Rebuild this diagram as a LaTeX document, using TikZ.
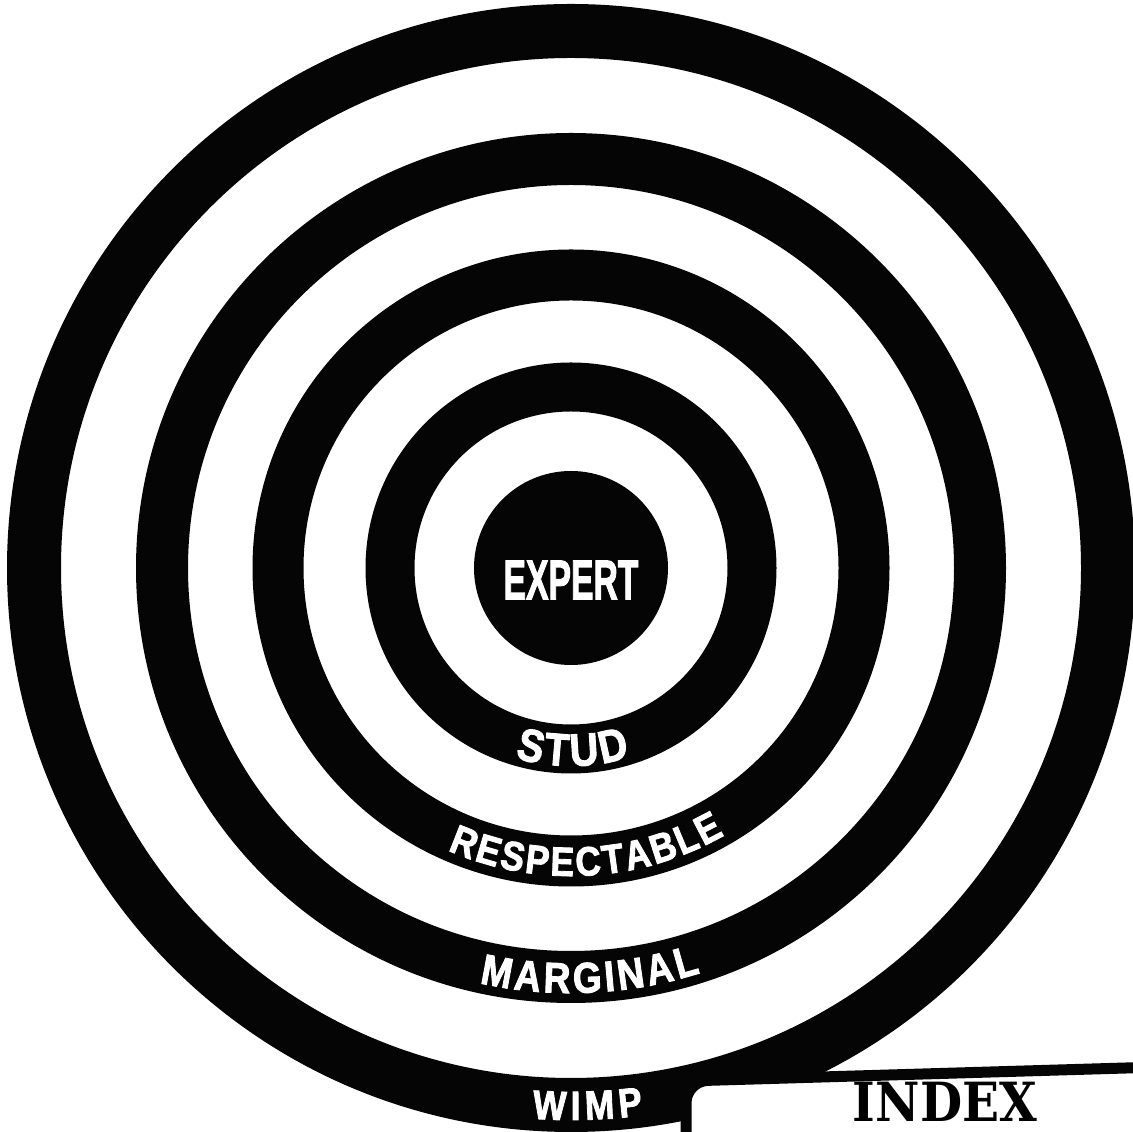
\documentclass[tikz,border=0pt]{standalone}
\usepackage{fontspec}
\usepackage{tikz}
\usetikzlibrary{decorations.text}
\setmainfont{Liberation Sans}
\newfontfamily\ringfont{Liberation Sans Bold}[FakeStretch=0.86, FakeBold=2]
\newfontfamily\tabfont{DejaVu Serif Bold}[FakeStretch=0.9]
\definecolor{TargetInk}{HTML}{050505}
\definecolor{PaperWhite}{HTML}{FFFFFF}
\newcommand{\bandring}[2]{%
  \draw[TargetInk, line width=#2pt] (c) circle[radius=#1];%
}
\newcommand{\bandlabel}[5]{%
  \begingroup\fontsize{#3}{#3}\selectfont
  \path[
    shift={(c)},
    decorate,
    decoration={
      text along path,
      text align=center,
      text={|\ringfont\color{white}\kern#4pt|#5}
    }
  ] (225+#2:#1) arc[start angle=225+#2, end angle=315+#2, radius=#1];
  \endgroup
}

\begin{document}
\begin{tikzpicture}[x=1pt, y=1pt]
  \useasboundingbox (0,0) rectangle (1133,1132);
  \fill[PaperWhite] (0,0) rectangle (1133,1132);
  \clip (0,0) rectangle (1133,1132);
  \coordinate (c) at (571,564);
  \bandring{537}{54}
  \bandring{409}{52}
  \bandring{293}{51}
  \bandring{181}{49}
  \fill[TargetInk] (c) circle[radius=97];
  \node[
    font=\ringfont\fontsize{56}{56}\selectfont,
    text=white
  ] (expert) at ([yshift=-12pt]c) {\scalebox{0.7}[1]{EXPERT}};
  \bandlabel{198}{0}{46}{3}{STUD}
  \bandlabel{308}{2.9}{41}{2.5}{RESPECTABLE}
  \bandlabel{425}{2.4}{43}{3.5}{MARGINAL}
  \bandlabel{552}{1.5}{41}{5}{WIMP}
  \draw[
    TargetInk,
    fill=PaperWhite,
    line width=11pt,
    rounded corners=22pt
  ] (686,-30) -- (686,51) -- (1160,65) -- (1160,-30) -- cycle;
  \node[
    font=\tabfont\fontsize{54}{54}\selectfont,
    inner sep=0pt,
    anchor=base
  ] (index) at (945,10) {INDEX};
\end{tikzpicture}
\end{document}
